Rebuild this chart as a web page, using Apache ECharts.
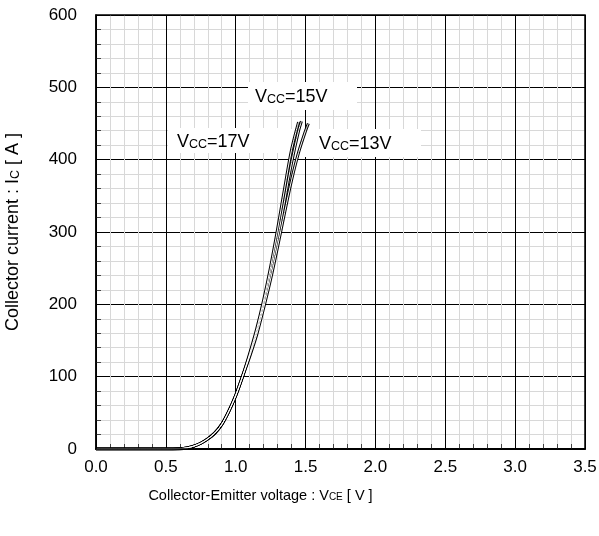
<!DOCTYPE html>
<html><head><meta charset="utf-8">
<script src="https://cdn.jsdelivr.net/npm/echarts@6/dist/echarts.min.js"></script>
<style>html,body{margin:0;padding:0;background:#fff}#c{width:599px;height:536px}</style>
</head><body><div id="c"></div>
<script>
const xTicks = [0.0,0.5,1.0,1.5,2.0,2.5,3.0,3.5];
const yTicks = [0,100,200,300,400,500,600];
const common = [[0,0],[0.5,0],[0.6,0.5],[0.65,1.5],[0.7,4],[0.75,8],[0.8,14],[0.85,22],[0.9,34],[0.95,52],[1.0,74],[1.05,101]];
const vcc17 = common.concat([[1.1,132],[1.15,166],[1.2,206],[1.25,252],[1.3,304],[1.35,360],[1.4,414],[1.45,452]]);
const vcc15 = common.concat([[1.1,130],[1.15,162],[1.2,201],[1.25,244],[1.3,291],[1.35,343],[1.4,396],[1.45,440],[1.47,453]]);
const vcc13 = common.concat([[1.1,128],[1.15,158],[1.2,195],[1.25,235],[1.3,280],[1.35,327],[1.4,372],[1.45,410],[1.5,440],[1.52,450]]);
const curves = [['Vcc=17V',vcc17],['Vcc=15V',vcc15],['Vcc=13V',vcc13]];
const labelTexts = ['17V','15V','13V'];

const chart = echarts.init(document.getElementById('c'));
const font = 'Liberation Sans, Arial, sans-serif';
const series = [];
curves.forEach(([name,d])=>{
  series.push({name:name,type:'line',data:d,showSymbol:false,smooth:0.3,z:5,
    lineStyle:{color:'#000',width:3},silent:true});
  series.push({name:name+'_in',type:'line',data:d,showSymbol:false,smooth:0.3,z:6,
    lineStyle:{color:'#fff',width:1},silent:true});
});
function lbl(txt, bx, by, bw, bh, tx, ty){
  return [
    {type:'rect',left:bx,top:by,z:1,shape:{width:bw,height:bh},style:{fill:'#fff'}},
    {type:'text',left:tx,top:ty-11,z:2,style:{rich:{v:{fontSize:18,fontFamily:font,fill:'#000',height:22},s:{fontSize:12.5,fontFamily:font,fill:'#000',height:22,padding:[6,0,0,0]}},
      text:'{v|V}{s|CC}{v|='+txt+'}'}}
  ];
}
chart.setOption({
  animation:false,
  grid:{left:96,right:14,top:15,bottom:87,show:true,borderColor:'#000',borderWidth:1.5,z:10,containLabel:false,outerBoundsMode:'none'},
  xAxis:{type:'value',min:xTicks[0],max:xTicks[xTicks.length-1],interval:0.5,
    axisLine:{show:true,lineStyle:{color:'#000',width:2}},
    axisTick:{show:true,inside:true,length:5,lineStyle:{color:'#000'}},
    minorTick:{show:true,splitNumber:5,length:5,lineStyle:{color:'#444'}},
    splitLine:{show:true,lineStyle:{color:'#000',width:1}},
    minorSplitLine:{show:true,lineStyle:{color:'#d8d8d8',width:1}},
    axisLabel:{formatter:v=>v.toFixed(1),fontSize:17,fontFamily:font,color:'#000',margin:10},
    name:'Collector-Emitter voltage : V{s|CE} [ V ]',nameLocation:'middle',nameGap:39,
    nameTextStyle:{fontSize:14.5,fontFamily:font,color:'#000',padding:[0,160,0,0],rich:{s:{fontSize:10,fontFamily:font,color:'#000',padding:[4,0,0,0]}}}
  },
  yAxis:{type:'value',min:yTicks[0],max:yTicks[yTicks.length-1],interval:100,
    axisLine:{show:true,lineStyle:{color:'#000',width:1.5}},
    axisTick:{show:true,inside:true,length:5,lineStyle:{color:'#000'}},
    minorTick:{show:true,splitNumber:5,length:5,lineStyle:{color:'#444'}},
    splitLine:{show:true,lineStyle:{color:'#000',width:1}},
    minorSplitLine:{show:true,lineStyle:{color:'#d8d8d8',width:1}},
    axisLabel:{fontSize:17,fontFamily:font,color:'#000',margin:19},
    name:'Collector current : I{s|C} [ A ]',nameLocation:'middle',nameGap:74,
    nameTextStyle:{fontSize:18,fontFamily:font,color:'#000',rich:{s:{fontSize:12.5,fontFamily:font,color:'#000',padding:[5,0,0,0]}}}
  },
  series:series,
  graphic:[].concat(
    lbl(labelTexts[1],248,82,109,28,255,99),
    lbl(labelTexts[0],168,128,112,25,177,144),
    lbl(labelTexts[2],280,129,141,28,319,146)
  )
});
</script></body></html>
